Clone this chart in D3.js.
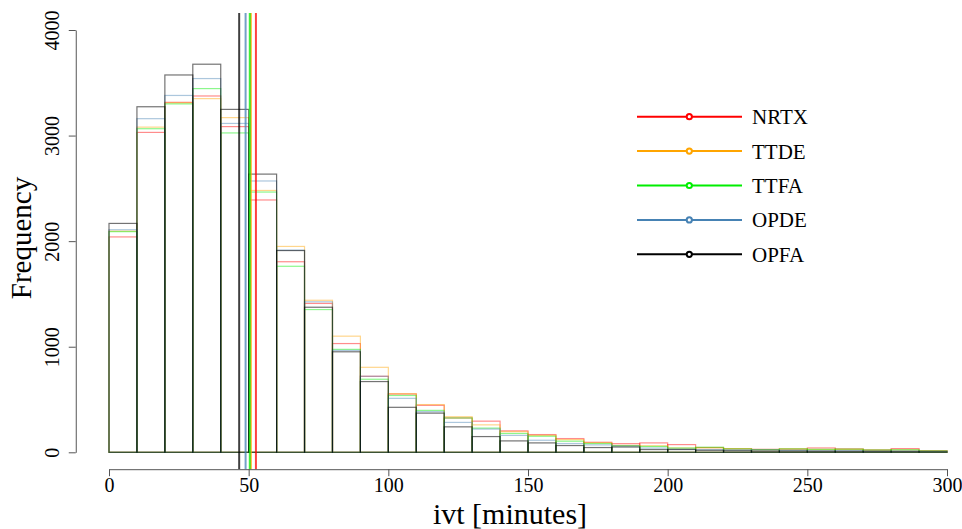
<!DOCTYPE html>
<html>
<head>
<meta charset="utf-8">
<title>ivt histogram</title>
<script src="https://d3js.org/d3.v7.min.js"></script>
<style>
body{margin:0; background:#fff;}
svg{display:block; background:#fff; font-family:"Liberation Serif","DejaVu Serif",serif;}
</style>
</head>
<body>
<script>
// bins of 10 minutes, 0..300
var binStarts = d3.range(0, 300, 10);
var seriesNames = ["NRTX", "TTDE", "TTFA", "OPDE", "OPFA"];
var seriesColors = ["#ff0000", "#ffa500", "#00ee00", "#4682b4", "#000000"];

var nrtx = [2040,3030,3315,3375,3085,2390,1805,1410,1030,720,552,445,325,295,203,168,130,95,82,89,73,45,32,28,30,41,32,22,35,15];
var ttde = [2095,3080,3310,3350,3170,2480,1950,1440,1100,805,555,452,337,260,195,160,120,90,65,62,40,42,35,25,33,25,28,20,22,14];
var ttfa = [2090,3065,3300,3445,3025,2465,1762,1352,975,692,538,397,325,229,178,152,105,83,62,55,40,48,32,26,32,28,30,22,24,13];
var opde = [2108,3160,3380,3540,3115,2570,1915,1425,965,720,511,385,283,220,160,114,83,70,60,40,30,25,22,24,18,15,15,12,12,10];
var opfa = [2168,3273,3574,3676,3248,2635,1911,1374,952,670,426,371,241,149,108,89,64,45,50,26,26,19,15,12,12,10,10,8,8,5];
var means = [52.6, 50.8, 50.4, 48.9, 46.6];

var xTicks = [0, 50, 100, 150, 200, 250, 300];
var yTicks = [0, 1000, 2000, 3000, 4000];

var width = 962, height = 529;
var svg = d3.select("body").append("svg").attr("width", width).attr("height", height);

var x = d3.scaleLinear().domain([0, 300]).range([109, 947]);
var y = d3.scaleLinear().domain([0, 4000]).range([452.3, 30]);

var allSeries = [nrtx, ttde, ttfa, opde, opfa];

// histograms (outlines only, semi transparent)
allSeries.forEach(function(vals, i){
  svg.append("g").selectAll("rect")
    .data(vals)
    .enter()
    .append("rect")
    .attr("x", function(d, j){ return x(binStarts[j]); })
    .attr("y", function(d){ return y(d); })
    .attr("width", function(d, j){ return x(binStarts[j] + 10) - x(binStarts[j]); })
    .attr("height", function(d){ return y(0) - y(d); })
    .attr("fill", "none")
    .attr("stroke", seriesColors[i])
    .attr("stroke-opacity", i == 4 ? 0.55 : 0.45)
    .attr("stroke-width", 1.2);
});

// mean lines
svg.append("g").selectAll("line")
  .data(means)
  .enter()
  .append("line")
  .attr("x1", function(d){ return x(d); })
  .attr("x2", function(d){ return x(d); })
  .attr("y1", y(4160))
  .attr("y2", y(-160))
  .attr("stroke", function(d, i){ return seriesColors[i]; })
  .attr("stroke-opacity", 0.75)
  .attr("stroke-width", 2);

// x axis
var xAxis = svg.append("g")
  .attr("transform", "translate(0," + y(-160) + ")")
  .call(d3.axisBottom(x).tickValues(xTicks).tickSize(7).tickPadding(2).tickSizeOuter(0));
xAxis.select(".domain").attr("stroke", "#555");
xAxis.selectAll(".tick line").attr("stroke", "#555");
xAxis.selectAll("text").attr("font-family", "Liberation Serif").attr("font-size", 20).attr("fill", "#000");

// y axis
var yAxis = svg.append("g")
  .attr("transform", "translate(" + x(-11.9) + ",0)")
  .call(d3.axisLeft(y).tickValues(yTicks).tickSize(7).tickSizeOuter(0).tickFormat(d3.format("d")));
yAxis.select(".domain").attr("stroke", "#555");
yAxis.selectAll(".tick line").attr("stroke", "#555");
yAxis.selectAll("text")
  .attr("font-family", "Liberation Serif").attr("font-size", 20).attr("fill", "#000")
  .attr("text-anchor", "middle")
  .attr("x", 0).attr("dy", 0)
  .attr("transform", "translate(-17,0) rotate(-90)");

// axis titles
svg.append("text")
  .attr("x", x(150) - 18).attr("y", 524)
  .attr("text-anchor", "middle")
  .attr("font-size", 30)
  .text("ivt [minutes]");

svg.append("text")
  .attr("transform", "translate(31,238) rotate(-90)")
  .attr("text-anchor", "middle")
  .attr("font-size", 29)
  .text("Frequency");

// legend
var legend = svg.append("g").selectAll("g")
  .data(seriesNames)
  .enter()
  .append("g")
  .attr("transform", function(d, i){ return "translate(0," + (116.7 + i * 34.4) + ")"; });

legend.append("line")
  .attr("x1", 637).attr("x2", 742).attr("y1", 0).attr("y2", 0)
  .attr("stroke", function(d, i){ return seriesColors[i]; })
  .attr("stroke-width", 2);
legend.append("circle")
  .attr("cx", 689.3).attr("cy", 0).attr("r", 2.6)
  .attr("fill", "#fff")
  .attr("stroke", function(d, i){ return seriesColors[i]; })
  .attr("stroke-width", 2);
legend.append("text")
  .attr("x", 752).attr("y", 7.5)
  .attr("font-size", 21)
  .text(function(d){ return d; });
</script>
</body>
</html>
